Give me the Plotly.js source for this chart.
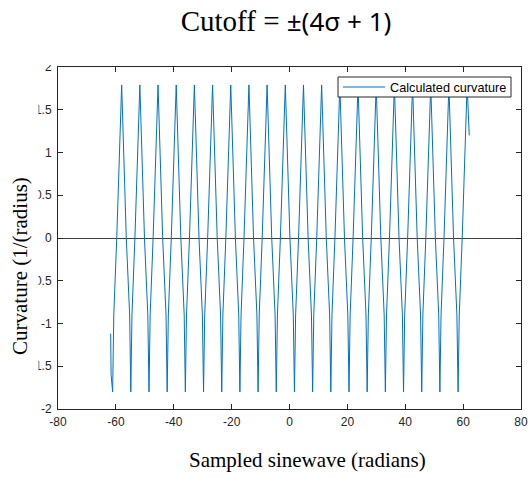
<!DOCTYPE html>
<html>
<head>
<meta charset="utf-8">
<script src="https://cdn.plot.ly/plotly-3.0.1.min.js"></script>
<style>html,body{margin:0;padding:0;background:#fff;}#chart{width:528px;height:477px;}</style>
</head>
<body>
<div id="chart"></div>
<script>
// Sampled positions (radians) and calculated curvature values
const sampleX = [
  -61.80, -61.65,
  -61.12, -60.72, -59.70, -58.00, -56.40, -55.24,
  -54.84, -54.44, -53.42, -51.72, -50.12, -48.96,
  -48.55, -48.15, -47.13, -45.43, -43.83, -42.67,
  -42.27, -41.87, -40.85, -39.15, -37.55, -36.39,
  -35.99, -35.59, -34.57, -32.87, -31.27, -30.11,
  -29.70, -29.30, -28.28, -26.58, -24.98, -23.82,
  -23.42, -23.02, -22.00, -20.30, -18.70, -17.54,
  -17.14, -16.74, -15.72, -14.02, -12.42, -11.26,
  -10.86, -10.46, -9.44, -7.74, -6.14, -4.98,
  -4.57, -4.17, -3.15, -1.45, 0.15, 1.31,
  1.71, 2.11, 3.13, 4.83, 6.43, 7.59,
  7.99, 8.39, 9.41, 11.11, 12.71, 13.87,
  14.28, 14.68, 15.70, 17.40, 19.00, 20.16,
  20.56, 20.96, 21.98, 23.68, 25.28, 26.44,
  26.84, 27.24, 28.26, 29.96, 31.56, 32.72,
  33.13, 33.53, 34.55, 36.25, 37.85, 39.01,
  39.41, 39.81, 40.83, 42.53, 44.13, 45.29,
  45.69, 46.09, 47.11, 48.81, 50.41, 51.57,
  51.97, 52.37, 53.39, 55.09, 56.69, 57.85,
  58.26, 58.66, 59.68, 61.38, 62.12
];
const curvature = [
  -1.12, -1.60,
  -1.80, -0.90, 0, 1.79, 0, -0.90,
  -1.80, -0.90, 0, 1.79, 0, -0.90,
  -1.80, -0.90, 0, 1.79, 0, -0.90,
  -1.80, -0.90, 0, 1.79, 0, -0.90,
  -1.80, -0.90, 0, 1.79, 0, -0.90,
  -1.80, -0.90, 0, 1.79, 0, -0.90,
  -1.80, -0.90, 0, 1.79, 0, -0.90,
  -1.80, -0.90, 0, 1.79, 0, -0.90,
  -1.80, -0.90, 0, 1.79, 0, -0.90,
  -1.80, -0.90, 0, 1.79, 0, -0.90,
  -1.80, -0.90, 0, 1.79, 0, -0.90,
  -1.80, -0.90, 0, 1.79, 0, -0.90,
  -1.80, -0.90, 0, 1.79, 0, -0.90,
  -1.80, -0.90, 0, 1.79, 0, -0.90,
  -1.80, -0.90, 0, 1.79, 0, -0.90,
  -1.80, -0.90, 0, 1.79, 0, -0.90,
  -1.80, -0.90, 0, 1.79, 0, -0.90,
  -1.80, -0.90, 0, 1.79, 0, -0.90,
  -1.80, -0.90, 0, 1.79, 0, -0.90,
  -1.80, -0.90, 0, 1.79, 1.20
];
const seriesName = "Calculated curvature";
const xTickVals = [-80, -60, -40, -20, 0, 20, 40, 60, 80];
const xTickText = ["-80", "-60", "-40", "-20", "0", "20", "40", "60", "80"];
const yTickVals = [-2, -1.5, -1, -0.5, 0, 0.5, 1, 1.5, 2];
const yTickText = ["-2", "-1.5", "-1", "-0.5", "0", "0.5", "1", "1.5", "2"];
const titleText = 'Cutoff = <span style="font-family:\'Noto Sans\';font-size:26px">±(4σ + 1)</span>';
const xTitle = "Sampled sinewave (radians)";
const yTitle = "Curvature (1/(radius)";

const W = 528, H = 477, ML = 58, MR = 7, MT = 67, MB = 68;
const PW = W - ML - MR, PH = H - MT - MB;
const px = p => (p - ML) / PW;          // pixel x -> paper x
const py = p => (H - MB - p) / PH;      // pixel y -> paper y

const axisCommon = {
  showline: true, mirror: 'ticks', linecolor: '#262626', linewidth: 1,
  ticks: 'inside', ticklen: 5, tickwidth: 1, tickcolor: '#262626',
  showgrid: false,
  tickfont: {family: 'Liberation Sans, Arial, sans-serif', size: 12, color: '#262626'}
};

const data = [{
  type: 'scatter', mode: 'lines',
  x: sampleX, y: curvature, name: seriesName,
  line: {color: '#0072BD', width: 1},
  showlegend: false
}];

const layout = {
  width: W, height: H,
  margin: {l: ML, r: MR, t: MT, b: MB},
  paper_bgcolor: '#ffffff', plot_bgcolor: '#ffffff',
  showlegend: false,
  title: {
    text: titleText,
    font: {family: 'Liberation Serif, Times New Roman, serif', size: 29, color: '#000'},
    xref: 'paper', x: px(286), xanchor: 'center',
    yref: 'container', y: 1 - 21 / H, yanchor: 'middle'
  },
  xaxis: Object.assign({}, axisCommon, {
    range: [-80, 80], tickmode: 'array', tickvals: xTickVals, ticktext: xTickText,
    zeroline: false, ticklabelstandoff: 2
  }),
  yaxis: Object.assign({}, axisCommon, {
    range: [-2, 2], tickmode: 'array', tickvals: yTickVals, ticktext: yTickText,
    zeroline: true, zerolinecolor: '#404040', zerolinewidth: 1, ticklabelstandoff: 3
  }),
  shapes: [
    // white masks matching the reference's hidden label regions
    {type: 'rect', xref: 'paper', yref: 'paper', layer: 'above',
     x0: px(-10), x1: px(38.5), y0: py(397), y1: py(62),
     fillcolor: '#ffffff', line: {width: 0}},
    {type: 'rect', xref: 'paper', yref: 'paper', layer: 'above',
     x0: px(-10), x1: px(540), y0: py(65), y1: py(-10),
     fillcolor: '#ffffff', line: {width: 0}},
    // legend box
    {type: 'rect', xref: 'paper', yref: 'paper', layer: 'above',
     x0: px(338), x1: px(511), y0: py(97), y1: py(77),
     fillcolor: '#ffffff', line: {color: '#262626', width: 1}},
    // legend line sample
    {type: 'line', xref: 'paper', yref: 'paper', layer: 'above',
     x0: px(343), x1: px(385), y0: py(87), y1: py(87),
     line: {color: '#0072BD', width: 1}}
  ],
  annotations: [
    {text: seriesName, xref: 'paper', yref: 'paper', x: px(388), y: py(87.5),
     xanchor: 'left', yanchor: 'middle', showarrow: false,
     font: {family: 'Liberation Sans, Arial, sans-serif', size: 12.7, color: '#000'}},
    {text: xTitle, xref: 'paper', yref: 'paper', x: px(307), y: py(460),
     xanchor: 'center', yanchor: 'middle', showarrow: false,
     font: {family: 'Liberation Serif, Times New Roman, serif', size: 21, color: '#000'}},
    {text: yTitle, xref: 'paper', yref: 'paper', x: px(20), y: py(266),
     xanchor: 'center', yanchor: 'middle', showarrow: false, textangle: -90,
     font: {family: 'Liberation Serif, Times New Roman, serif', size: 21, color: '#000'}}
  ]
};

Plotly.newPlot('chart', data, layout, {displayModeBar: false, staticPlot: true});
</script>
</body>
</html>
